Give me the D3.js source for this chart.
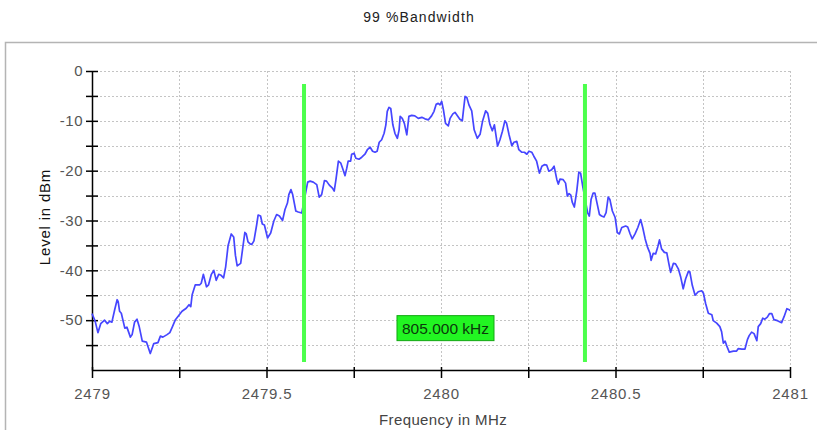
<!DOCTYPE html>
<html>
<head>
<meta charset="utf-8">
<script src="https://cdn.jsdelivr.net/npm/d3@7"></script>
<style>
  body { margin: 0; background: #fff; }
  svg text { font-family: "Liberation Sans", Arial, sans-serif; }
</style>
</head>
<body>
<div id="chart"></div>
<script>
// spectrum trace
var freqMHz = [
  2479.000, 2479.009, 2479.017, 2479.025, 2479.036, 2479.044, 2479.051, 2479.057, 2479.065, 2479.072,
  2479.075, 2479.079, 2479.084, 2479.094, 2479.100, 2479.110, 2479.115, 2479.122, 2479.129, 2479.135,
  2479.144, 2479.156, 2479.167, 2479.177, 2479.189, 2479.196, 2479.203, 2479.215, 2479.223, 2479.230,
  2479.239, 2479.248, 2479.258, 2479.270, 2479.278, 2479.283, 2479.287, 2479.296, 2479.309, 2479.313,
  2479.319, 2479.328, 2479.334, 2479.342, 2479.349, 2479.356, 2479.363, 2479.370, 2479.377, 2479.383,
  2479.390, 2479.399, 2479.406, 2479.411, 2479.416, 2479.426, 2479.431, 2479.438, 2479.442, 2479.447,
  2479.453, 2479.458, 2479.464, 2479.472, 2479.476, 2479.483, 2479.488, 2479.494, 2479.503, 2479.512,
  2479.521, 2479.529, 2479.537, 2479.546, 2479.553, 2479.560, 2479.564, 2479.570, 2479.575, 2479.584,
  2479.591, 2479.601, 2479.618, 2479.625, 2479.634, 2479.644, 2479.651, 2479.658, 2479.666, 2479.672,
  2479.680, 2479.689, 2479.694, 2479.699, 2479.706, 2479.713, 2479.718, 2479.725, 2479.730, 2479.734,
  2479.741, 2479.744, 2479.751, 2479.756, 2479.765, 2479.773, 2479.782, 2479.789, 2479.797, 2479.804,
  2479.811, 2479.817, 2479.823, 2479.830, 2479.837, 2479.842, 2479.846, 2479.851, 2479.856, 2479.862,
  2479.868, 2479.875, 2479.880, 2479.883, 2479.889, 2479.895, 2479.902, 2479.908, 2479.916, 2479.925,
  2479.935, 2479.945, 2479.954, 2479.964, 2479.973, 2479.980, 2479.986, 2479.992, 2479.997, 2480.002,
  2480.007, 2480.013, 2480.021, 2480.026, 2480.034, 2480.040, 2480.047, 2480.054, 2480.061, 2480.064,
  2480.069, 2480.074, 2480.080, 2480.088, 2480.095, 2480.104, 2480.112, 2480.119, 2480.128, 2480.134,
  2480.140, 2480.147, 2480.153, 2480.158, 2480.162, 2480.169, 2480.176, 2480.183, 2480.188, 2480.195,
  2480.203, 2480.209, 2480.217, 2480.223, 2480.231, 2480.239, 2480.246, 2480.252, 2480.260, 2480.266,
  2480.274, 2480.282, 2480.289, 2480.296, 2480.303, 2480.309, 2480.317, 2480.324, 2480.332, 2480.336,
  2480.341, 2480.350, 2480.357, 2480.362, 2480.367, 2480.372, 2480.376, 2480.382, 2480.389, 2480.395,
  2480.400, 2480.406, 2480.420, 2480.425, 2480.430, 2480.436, 2480.441, 2480.448, 2480.454, 2480.460,
  2480.467, 2480.473, 2480.479, 2480.484, 2480.491, 2480.499, 2480.505, 2480.511, 2480.518, 2480.529,
  2480.535, 2480.542, 2480.548, 2480.556, 2480.564, 2480.572, 2480.578, 2480.585, 2480.592, 2480.599,
  2480.602, 2480.608, 2480.615, 2480.621, 2480.626, 2480.632, 2480.640, 2480.647, 2480.653, 2480.658,
  2480.666, 2480.672, 2480.680, 2480.687, 2480.694, 2480.701, 2480.709, 2480.713, 2480.720, 2480.728,
  2480.737, 2480.747, 2480.752, 2480.758, 2480.766, 2480.776, 2480.780, 2480.790, 2480.799, 2480.804,
  2480.809, 2480.814, 2480.819, 2480.826, 2480.838, 2480.847, 2480.852, 2480.862, 2480.871, 2480.878,
  2480.883, 2480.890, 2480.897, 2480.905, 2480.909, 2480.916, 2480.922, 2480.928, 2480.935, 2480.941,
  2480.948, 2480.954, 2480.964, 2480.976, 2480.983, 2480.991, 2480.998, 2481.000
];
var levelDbm = [
  -48.7, -50.2, -52.5, -50.7, -50.0, -50.7, -50.2, -50.4, -47.9, -45.9,
  -46.3, -48.2, -48.6, -51.6, -51.4, -53.4, -52.9, -50.4, -49.8, -51.2,
  -54.2, -54.4, -56.7, -54.7, -54.5, -53.2, -53.4, -52.9, -52.5, -51.4,
  -49.9, -49.1, -48.2, -47.6, -46.9, -47.3, -44.9, -42.9, -42.9, -42.6,
  -40.8, -43.3, -42.9, -40.8, -40.0, -42.0, -40.8, -41.0, -41.5, -39.3,
  -35.0, -32.7, -33.3, -37.0, -39.1, -38.6, -36.0, -32.4, -32.7, -34.3,
  -34.7, -34.8, -34.1, -30.8, -28.9, -29.1, -30.7, -30.9, -33.5, -32.5,
  -30.1, -28.8, -29.1, -30.0, -27.8, -26.5, -24.8, -23.8, -24.8, -28.1,
  -28.3, -28.5, -22.3, -22.1, -22.3, -22.8, -25.3, -24.8, -22.0, -22.1,
  -22.9, -23.5, -24.1, -21.8, -18.1, -18.5, -19.5, -21.0, -19.5, -18.1,
  -18.1, -16.7, -16.5, -17.5, -17.7, -17.3, -16.7, -15.8, -15.3, -16.1,
  -16.3, -16.1, -14.3, -13.8, -12.5, -10.8, -8.1, -7.3, -7.5, -10.8,
  -12.5, -13.5, -11.8, -9.1, -9.5, -10.5, -12.8, -9.1, -8.9, -9.0,
  -9.5, -9.3, -9.6, -9.8, -9.0, -8.1, -6.7, -6.5, -6.8, -6.1,
  -7.8, -10.5, -11.0, -9.5, -8.6, -8.3, -9.0, -9.7, -10.0, -8.1,
  -5.1, -5.3, -6.8, -8.0, -11.8, -13.5, -12.7, -10.1, -8.0, -8.5,
  -10.7, -12.0, -10.8, -13.1, -15.1, -13.8, -12.1, -10.0, -10.5, -12.8,
  -15.0, -14.3, -14.1, -15.8, -16.3, -16.3, -16.7, -16.1, -16.3, -17.1,
  -18.1, -20.5, -19.1, -18.8, -18.9, -20.1, -19.8, -19.1, -21.8, -22.7,
  -21.7, -21.8, -22.5, -25.1, -24.6, -24.9, -26.3, -27.3, -24.1, -20.3,
  -20.5, -23.1, -28.4, -29.1, -25.8, -24.5, -24.5, -26.8, -28.8, -29.1,
  -29.3, -28.4, -25.3, -25.8, -28.1, -29.4, -32.4, -32.7, -31.4, -31.1,
  -31.3, -32.7, -33.7, -32.7, -31.4, -29.8, -31.4, -33.7, -35.4, -36.6,
  -38.0, -36.6, -36.7, -35.3, -33.9, -35.7, -36.4, -36.5, -38.7, -40.4,
  -38.6, -38.7, -39.7, -41.4, -43.7, -41.7, -40.2, -40.3, -43.0, -45.0,
  -44.3, -44.1, -44.6, -46.6, -48.6, -48.9, -50.1, -50.6, -51.3, -52.3,
  -54.6, -54.2, -55.2, -56.4, -56.2, -56.2, -55.7, -55.8, -55.8, -53.9,
  -53.1, -52.4, -52.7, -54.1, -51.3, -50.7, -49.6, -49.8, -49.4, -48.7,
  -48.7, -49.9, -50.1, -50.5, -49.3, -47.7, -47.9, -48.1
];

// 99% bandwidth marker lines
var markerFreqs = [2479.6075, 2480.4125];
var markerTop = -2.6, markerBottom = -58.4;
var bandwidthLabel = '805.000 kHz';
var labelLevel = -51.6;

var xTicks = [2479, 2479.25, 2479.5, 2479.75, 2480, 2480.25, 2480.5, 2480.75, 2481];
var xTickLabels = {2479: '2479', 2479.5: '2479.5', 2480: '2480', 2480.5: '2480.5', 2481: '2481'};
var yTicks = [0, -5, -10, -15, -20, -25, -30, -35, -40, -45, -50, -55];
var yTickLabels = {0: '0', '-10': '-10', '-20': '-20', '-30': '-30', '-40': '-40', '-50': '-50'};

var W = 817, H = 430;
var plot = { left: 92, right: 790, top: 71, bottom: 370 };

var svg = d3.select('#chart').append('svg')
    .attr('width', W).attr('height', H);

// outer frame
svg.append('rect')
    .attr('x', 5.5).attr('y', 42.5)
    .attr('width', 830).attr('height', 420)
    .attr('fill', 'none').attr('stroke', '#b4b4b4').attr('stroke-width', 1.5);

svg.append('text')
    .attr('x', 419).attr('y', 22)
    .attr('text-anchor', 'middle')
    .attr('font-size', 14).attr('letter-spacing', 1.1)
    .attr('fill', '#222')
    .text('99 %Bandwidth');

var x = d3.scaleLinear().domain([2479, 2481]).range([plot.left, plot.right]);
var y = d3.scaleLinear().domain([-60, 0]).range([plot.bottom, plot.top]);

// grid
var grid = svg.append('g').attr('stroke', '#c4c4c4').attr('stroke-dasharray', '2,2');
grid.selectAll('.hg').data(yTicks).enter().append('line')
    .attr('x1', plot.left).attr('x2', plot.right + 1)
    .attr('y1', function(d) { return Math.round(y(d)) + 0.5; })
    .attr('y2', function(d) { return Math.round(y(d)) + 0.5; });
grid.selectAll('.vg').data(xTicks.slice(1)).enter().append('line')
    .attr('y1', plot.top).attr('y2', plot.bottom)
    .attr('x1', function(d) { return Math.round(x(d)) + 0.5; })
    .attr('x2', function(d) { return Math.round(x(d)) + 0.5; });

// axes
var xAxis = svg.append('g')
    .attr('transform', 'translate(0,' + plot.bottom + ')')
    .call(d3.axisBottom(x).tickValues(xTicks).tickSize(0).tickPadding(18)
        .tickFormat(function(d) { return xTickLabels[d] || ''; }));
xAxis.select('.domain').attr('stroke', '#000').attr('stroke-width', 1.5);
xAxis.selectAll('.tick line').attr('y1', -3).attr('y2', 8)
    .attr('stroke', '#000').attr('stroke-width', 1.5);
xAxis.selectAll('.tick text')
    .attr('font-size', 15).attr('letter-spacing', 0.8)
    .attr('fill', '#555').attr('font-family', '"Liberation Sans", Arial, sans-serif');

var yAxis = svg.append('g')
    .attr('transform', 'translate(' + plot.left + ',0)')
    .call(d3.axisLeft(y).tickValues(yTicks).tickSize(0).tickPadding(9)
        .tickFormat(function(d) { return yTickLabels[d] || ''; }));
yAxis.select('.domain').attr('stroke', '#000').attr('stroke-width', 1.5);
yAxis.selectAll('.tick line').attr('x1', -6).attr('x2', 6)
    .attr('stroke', '#000').attr('stroke-width', 1.5);
yAxis.selectAll('.tick text')
    .attr('font-size', 15).attr('letter-spacing', 0.5)
    .attr('fill', '#555').attr('font-family', '"Liberation Sans", Arial, sans-serif');

// axis titles
svg.append('text')
    .attr('x', 443).attr('y', 425)
    .attr('text-anchor', 'middle')
    .attr('font-size', 15).attr('letter-spacing', 0.4)
    .attr('fill', '#444')
    .text('Frequency in MHz');

svg.append('text')
    .attr('transform', 'translate(50,217) rotate(-90)')
    .attr('text-anchor', 'middle')
    .attr('font-size', 15).attr('letter-spacing', 0.8)
    .attr('fill', '#111')
    .text('Level in dBm');

// trace
var pts = freqMHz.map(function(f, i) { return [f, levelDbm[i]]; });
var line = d3.line()
    .x(function(d) { return x(d[0]); })
    .y(function(d) { return y(d[1]); });
svg.append('path')
    .datum(pts)
    .attr('d', line)
    .attr('fill', 'none')
    .attr('stroke', '#4646ff')
    .attr('stroke-width', 1.7)
    .attr('stroke-linejoin', 'round');

// marker lines
svg.selectAll('.marker').data(markerFreqs).enter().append('line')
    .attr('x1', function(d) { return x(d); })
    .attr('x2', function(d) { return x(d); })
    .attr('y1', y(markerTop)).attr('y2', y(markerBottom))
    .attr('stroke', '#4cff4c').attr('stroke-width', 4);

// bandwidth label
var midX = x((markerFreqs[0] + markerFreqs[1]) / 2) + 1;
var labelG = svg.append('g')
    .attr('transform', 'translate(' + midX + ',' + y(labelLevel) + ')');
labelG.append('rect')
    .attr('x', -48.5).attr('y', -12.5)
    .attr('width', 97).attr('height', 25)
    .attr('fill', '#22f522').attr('stroke', '#12a812').attr('stroke-width', 1);
labelG.append('text')
    .attr('x', 0).attr('y', 5.5)
    .attr('text-anchor', 'middle')
    .attr('font-size', 15.5)
    .attr('fill', '#0b3a0b')
    .text(bandwidthLabel);
</script>
</body>
</html>
